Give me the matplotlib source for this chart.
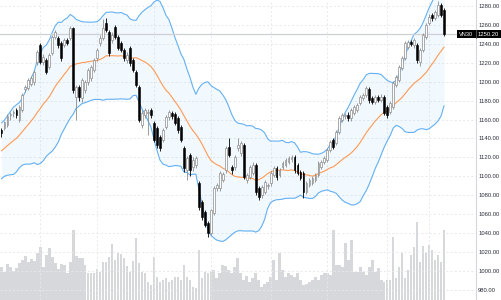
import matplotlib
matplotlib.use("Agg")
import matplotlib.pyplot as plt
import matplotlib.transforms as mtransforms
from matplotlib.patches import Rectangle
import numpy as np
import pandas as pd

symbol = "VN30"

# closes before the visible window (needed for the 20-period Bollinger Bands)
warmup_closes = [1100, 1108, 1115, 1120, 1112, 1105, 1110, 1118, 1125,
                 1130, 1128, 1135, 1140, 1132, 1138, 1145, 1142, 1140, 1150]

opens = [1149.0, 1151.1, 1154.3, 1164.9, 1167.0, 1170.1, 1159.6, 1170.1, 1192.3, 1193.4,
         1197.6, 1199.7, 1220.8, 1238.8, 1220.8, 1222.9, 1215.6, 1230.3, 1247.2, 1246.2,
         1240.9, 1238.8, 1244.1, 1246.2, 1256.7, 1183.9, 1194.4, 1182.8, 1191.3, 1199.7,
         1203.9, 1212.4, 1225.0, 1240.9, 1246.2, 1262.0, 1252.5, 1244.1, 1257.8, 1247.2,
         1240.9, 1233.5, 1222.9, 1235.6, 1222.9, 1210.3, 1194.4, 1154.3, 1164.9, 1167.0,
         1170.1, 1156.4, 1151.1, 1141.6, 1138.5, 1152.2, 1162.8, 1167.0, 1165.9, 1161.7,
         1152.2, 1130.0, 1106.8, 1122.6, 1110.0, 1112.1, 1093.1, 1073.0, 1062.5, 1050.8,
         1040.3, 1061.4, 1087.8, 1087.8, 1096.2, 1106.8, 1131.1, 1110.0, 1110.0, 1130.0,
         1124.7, 1133.2, 1096.2, 1099.4, 1103.6, 1112.1, 1087.8, 1080.4, 1083.6, 1089.9,
         1093.1, 1101.5, 1108.9, 1101.5, 1110.0, 1112.1, 1115.2, 1118.0, 1120.5, 1112.1,
         1104.7, 1103.6, 1083.6, 1090.9, 1093.1, 1096.2, 1101.5, 1110.0, 1115.2, 1117.3,
         1127.9, 1138.5, 1135.3, 1146.9, 1159.6, 1163.8, 1164.9, 1161.7, 1167.0, 1170.1,
         1177.5, 1182.8, 1186.0, 1192.3, 1182.8, 1178.6, 1183.9, 1180.7, 1183.9, 1173.3,
         1168.0, 1173.3, 1196.5, 1201.8, 1214.5, 1225.0, 1236.7, 1242.0, 1238.8, 1238.8,
         1220.8, 1233.5, 1247.2, 1262.0, 1270.5, 1267.3, 1270.5, 1281.0, 1275.7]

highs = [1151.5, 1159.0, 1165.5, 1168.0, 1170.5, 1172.0, 1175.0, 1188.0, 1196.0, 1204.0,
         1206.0, 1212.0, 1234.0, 1241.0, 1229.0, 1225.0, 1230.0, 1249.0, 1255.0, 1248.0,
         1243.0, 1246.5, 1246.0, 1258.5, 1258.0, 1197.0, 1197.0, 1204.0, 1202.0, 1214.5,
         1217.5, 1225.0, 1236.0, 1249.0, 1266.0, 1267.5, 1254.5, 1252.0, 1260.0, 1249.0,
         1243.0, 1236.0, 1231.0, 1238.0, 1225.0, 1212.0, 1196.0, 1170.0, 1172.5, 1171.0,
         1172.0, 1158.0, 1153.0, 1144.0, 1151.0, 1165.0, 1170.5, 1169.0, 1168.0, 1163.5,
         1154.0, 1132.0, 1122.0, 1125.0, 1120.0, 1122.0, 1095.0, 1075.0, 1064.5, 1053.0,
         1066.0, 1090.0, 1093.0, 1105.5, 1105.0, 1132.0, 1141.0, 1112.5, 1123.0, 1141.0,
         1137.5, 1135.0, 1104.0, 1112.5, 1115.0, 1114.0, 1090.0, 1091.0, 1096.0, 1093.5,
         1106.0, 1111.0, 1111.0, 1109.0, 1116.5, 1119.5, 1122.0, 1122.5, 1123.0, 1114.0,
         1107.0, 1106.0, 1095.5, 1098.5, 1100.5, 1103.5, 1116.5, 1117.5, 1122.0, 1130.0,
         1138.5, 1141.0, 1149.0, 1164.0, 1167.0, 1167.0, 1167.5, 1172.0, 1175.5, 1177.5,
         1186.0, 1188.5, 1195.5, 1194.5, 1185.0, 1186.0, 1186.0, 1186.5, 1186.0, 1175.5,
         1180.0, 1200.5, 1207.5, 1218.0, 1227.5, 1243.0, 1244.5, 1244.5, 1246.5, 1241.0,
         1236.0, 1251.5, 1262.0, 1271.0, 1273.0, 1276.0, 1285.5, 1283.5, 1278.0]

lows = [1142.0, 1149.5, 1152.0, 1160.0, 1163.0, 1162.0, 1157.0, 1168.0, 1189.0, 1191.0,
        1195.0, 1197.0, 1218.0, 1218.5, 1218.0, 1208.0, 1213.0, 1228.0, 1245.0, 1236.0,
        1222.0, 1236.5, 1238.5, 1244.0, 1188.0, 1159.6, 1180.0, 1179.0, 1188.0, 1197.0,
        1201.0, 1210.0, 1222.0, 1238.0, 1244.0, 1252.0, 1227.0, 1241.0, 1245.0, 1233.0,
        1231.0, 1222.0, 1220.0, 1217.0, 1210.0, 1194.0, 1157.0, 1151.0, 1162.0, 1143.7,
        1162.0, 1136.0, 1130.0, 1127.0, 1136.0, 1150.0, 1160.0, 1161.0, 1154.0, 1146.0,
        1136.0, 1105.0, 1096.0, 1100.0, 1106.0, 1109.0, 1064.0, 1054.0, 1046.0, 1036.0,
        1038.0, 1059.0, 1085.0, 1085.0, 1094.0, 1104.0, 1120.0, 1103.0, 1107.0, 1127.0,
        1122.0, 1097.0, 1093.0, 1097.0, 1101.0, 1080.0, 1075.0, 1077.0, 1081.0, 1087.0,
        1090.0, 1099.0, 1096.0, 1099.0, 1107.5, 1110.0, 1113.0, 1115.5, 1104.0, 1101.0,
        1096.0, 1077.0, 1081.0, 1088.5, 1091.0, 1094.0, 1099.0, 1108.0, 1113.0, 1115.0,
        1125.5, 1129.0, 1133.0, 1144.5, 1157.0, 1161.0, 1159.0, 1159.0, 1165.0, 1168.0,
        1175.0, 1180.5, 1184.0, 1178.0, 1176.0, 1176.5, 1178.5, 1178.5, 1164.5, 1162.0,
        1166.0, 1171.0, 1194.0, 1199.5, 1212.0, 1223.0, 1234.5, 1237.5, 1236.0, 1220.0,
        1217.0, 1231.0, 1245.0, 1259.5, 1264.5, 1265.0, 1268.0, 1268.0, 1248.5]

closes = [1145.9, 1157.5, 1163.8, 1165.9, 1168.0, 1164.9, 1173.3, 1186.0, 1194.4, 1201.8,
          1203.9, 1210.3, 1231.4, 1220.8, 1226.1, 1210.3, 1228.2, 1247.2, 1252.5, 1238.8,
          1225.0, 1244.1, 1240.9, 1256.7, 1191.3, 1194.4, 1183.9, 1201.8, 1199.7, 1212.4,
          1215.6, 1222.9, 1233.5, 1246.2, 1256.7, 1254.6, 1230.3, 1249.3, 1247.2, 1235.6,
          1233.5, 1225.0, 1228.2, 1219.8, 1212.4, 1196.5, 1159.6, 1167.0, 1170.1, 1168.0,
          1164.9, 1138.5, 1133.2, 1130.0, 1149.0, 1162.8, 1168.0, 1163.8, 1156.4, 1149.0,
          1138.5, 1108.9, 1119.5, 1106.8, 1117.3, 1119.5, 1067.7, 1057.2, 1048.7, 1040.3,
          1064.5, 1087.8, 1090.9, 1103.6, 1102.6, 1130.0, 1122.6, 1106.8, 1120.5, 1133.2,
          1135.3, 1099.4, 1101.5, 1110.0, 1112.1, 1083.6, 1078.3, 1088.8, 1094.1, 1090.9,
          1103.6, 1108.9, 1099.4, 1106.8, 1114.2, 1117.3, 1119.5, 1120.0, 1106.8, 1103.6,
          1098.3, 1083.6, 1093.1, 1096.2, 1098.3, 1101.5, 1114.2, 1115.2, 1119.5, 1127.9,
          1136.4, 1131.1, 1146.9, 1161.7, 1164.9, 1164.5, 1161.7, 1170.1, 1173.3, 1175.4,
          1183.9, 1186.0, 1193.4, 1180.7, 1178.6, 1183.9, 1180.7, 1183.9, 1167.0, 1164.9,
          1177.5, 1198.7, 1205.0, 1215.6, 1225.0, 1240.9, 1242.0, 1239.8, 1244.1, 1222.9,
          1233.5, 1249.3, 1259.9, 1268.4, 1267.3, 1273.6, 1281.0, 1270.5, 1250.2]

volumes = [33, 28, 36, 33, 29, 32, 37, 40, 44, 38, 41, 39, 47, 53, 33, 45, 52, 43, 37, 31,
           36, 35, 27, 38, 70, 44, 42, 42, 35, 27, 27, 27, 31, 28, 38, 38, 43, 56, 40, 47,
           46, 42, 34, 28, 39, 62, 37, 28, 27, 18, 15, 43, 23,
           18, 20, 22, 18, 20, 23, 23, 20, 35, 23, 20, 13, 12, 50, 22, 28, 27, 28, 30, 22,
           27, 35, 34, 30, 27, 33, 42, 27, 20, 24, 18, 22, 27, 20, 13, 16, 18, 23, 40, 20,
           47, 30, 23, 27, 25, 23, 27, 20, 15, 16, 18, 20, 23, 20, 25, 27, 27,
           25, 70, 35, 35, 33, 57, 40, 60, 28, 28, 33, 28, 25, 33, 40, 28, 32, 20, 18, 20,
           20, 63, 22, 33, 47, 22, 30, 45, 53, 78, 38, 54, 47, 55, 50, 40, 45, 38, 70]

price_ticks = [980, 1000, 1020, 1040, 1060, 1080, 1100, 1120, 1140, 1160,
               1180, 1200, 1220, 1240, 1260, 1280]
month_starts = [13, 32, 51, 70, 90, 109, 129, 143]
bb_period = 20
bb_mult = 2.0

# ---------------------------------------------------------------- computation
n = len(closes)
idx = np.arange(n)
all_closes = pd.Series(warmup_closes + closes, dtype=float)
basis = all_closes.rolling(bb_period).mean().to_numpy()[-n:]
dev = all_closes.rolling(bb_period).std(ddof=0).to_numpy()[-n:]
upper = basis + bb_mult * dev
lower = basis - bb_mult * dev

o = np.array(opens); c = np.array(closes); h = np.array(highs); l = np.array(lows)
up = c >= o

# ---------------------------------------------------------------- figure
W, H = 501, 300
fig = plt.figure(figsize=(W / 100, H / 100), dpi=100)
fig.patch.set_facecolor("white")
plot_w = 476 / W
ax_vol = fig.add_axes([0, 0, plot_w, 1])
ax = fig.add_axes([0, 0, plot_w, 1], sharex=ax_vol)
ax.patch.set_visible(False)

xmin, xmax = -0.5, 158.7
ax.set_xlim(xmin, xmax)
ax.set_ylim(969.4, 1286.3)

# volume
ax_vol.bar(idx, volumes, width=0.86, color="#d7d8dc", linewidth=0, zorder=1)
ax_vol.set_ylim(0, max(volumes) * 300 / 78)
ax_vol.axis("off")

# grid
grid_kw = dict(color="#e6e7eb", linewidth=0.6, linestyle=(0, (2.5, 2.5)))
for t in price_ticks:
    ax.axhline(t, zorder=0, **grid_kw)
for m in month_starts:
    ax.axvline(m, zorder=0, **grid_kw)

# Bollinger bands
ax.fill_between(idx, lower, upper, color="#2196f3", alpha=0.06, linewidth=0, zorder=1)
ax.plot(idx, upper, color="#64b0f2", linewidth=0.8, zorder=2)
ax.plot(idx, lower, color="#64b0f2", linewidth=0.8, zorder=2)
ax.plot(idx, basis, color="#ff9a55", linewidth=0.8, zorder=2)

# last price line
ax.axhline(closes[-1], color="#cfd0d4", linewidth=0.9, zorder=2)

# candles
wick_col = np.where(up, "#8c8c8c", "#000000")
ax.vlines(idx, l, h, colors=wick_col, linewidth=0.6, zorder=3)
body_w = 0.62
ax.bar(idx[up], (c - o)[up], bottom=o[up], width=body_w, color="white",
       edgecolor="#8c8c8c", linewidth=0.5, zorder=4)
ax.bar(idx[~up], (c - o)[~up], bottom=o[~up], width=body_w, color="#000000",
       edgecolor="#000000", linewidth=0.4, zorder=4)

# axes styling
for s in ["top", "left", "bottom"]:
    ax.spines[s].set_visible(False)
ax.spines["right"].set_color("#d6d7db")
ax.spines["right"].set_linewidth(0.8)
ax.yaxis.tick_right()
ax.set_yticks(price_ticks)
ax.set_yticklabels([f"{t:.2f}" for t in price_ticks])
ax.tick_params(axis="y", length=0, pad=1.6, labelsize=4.2, labelcolor="#2a2e39")
for lab in ax.get_yticklabels():
    lab.set_family("Liberation Sans")
ax.set_xticks([])

# last price label
blend = mtransforms.blended_transform_factory(fig.transFigure, ax.transData)
box_h = 8.5
ax.add_patch(Rectangle((457 / W, closes[-1] - box_h / 2), (W - 457) / W, box_h,
                       transform=blend, facecolor="#000000", edgecolor="none",
                       clip_on=False, zorder=10))
ax.plot([476 / W, 476 / W], [closes[-1] - box_h / 2, closes[-1] + box_h / 2],
        transform=blend, color="#555555", linewidth=0.6, clip_on=False, zorder=11)
ax.text(466.5 / W, closes[-1], symbol, transform=blend, ha="center", va="center",
        color="white", fontsize=4.1, family="Liberation Sans", zorder=12, clip_on=False)
ax.text(488.5 / W, closes[-1], f"{closes[-1]:.2f}", transform=blend, ha="center",
        va="center", color="white", fontsize=4.2, family="Liberation Sans",
        zorder=12, clip_on=False)

fig.savefig("out.png", dpi=100, facecolor="white")
